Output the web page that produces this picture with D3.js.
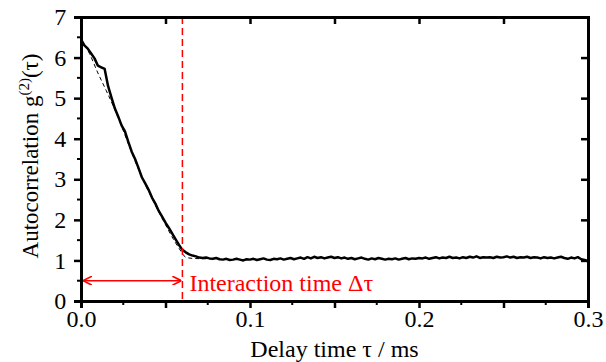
<!DOCTYPE html>
<html>
<head>
<meta charset="utf-8">
<script src="https://cdn.jsdelivr.net/npm/d3@7"></script>
<style>
  body { margin: 0; background: #fff; }
  text { font-family: "Liberation Serif", "Times New Roman", serif; }
</style>
</head>
<body>
<svg id="svg" width="606" height="362"></svg>
<script>
// measured g2 trace, one value every 2 us (0 .. 0.3 ms)
const tauStep = 0.002;
const g2 = [
  6.45, 6.30, 6.22, 6.10, 5.98, 5.80, 5.76, 5.72, 5.30, 5.02,
  4.75, 4.55, 4.33, 4.18, 3.92, 3.68, 3.50, 3.28, 3.05, 2.90,
  2.74, 2.55, 2.40, 2.22, 2.08, 1.93, 1.80, 1.66, 1.52, 1.38,
  1.26, 1.20, 1.15, 1.12, 1.10, 1.07, 1.06, 1.07, 1.05, 1.04,
  1.06,
  1.03, 1.02, 1.04, 1.01, 1.02, 1.04, 1.02, 1.00, 1.03, 1.02,
  1.04, 1.01, 1.03, 1.05, 1.02, 1.01, 1.04, 1.03, 1.05, 1.02,
  1.04, 1.06, 1.03, 1.05, 1.07, 1.04, 1.08, 1.05, 1.09, 1.06,
  1.08, 1.05, 1.07, 1.09, 1.06, 1.08, 1.05, 1.07, 1.04, 1.06,
  1.03, 1.05, 1.07, 1.04, 1.02, 1.05, 1.03, 1.06, 1.04, 1.02,
  1.04, 1.03, 1.05, 1.02, 1.04, 1.06, 1.03, 1.05, 1.04, 1.06,
  1.05, 1.07, 1.04, 1.06, 1.08, 1.05, 1.07, 1.06, 1.09, 1.06,
  1.07, 1.05, 1.08, 1.06, 1.09, 1.07, 1.10, 1.06, 1.08, 1.07,
  1.08, 1.06, 1.09, 1.07, 1.08, 1.10, 1.07, 1.09, 1.06, 1.08,
  1.07, 1.09, 1.06, 1.08, 1.07, 1.05, 1.08, 1.06, 1.07, 1.05,
  1.07, 1.09, 1.06, 1.04, 1.07, 1.05, 1.08, 1.03, 1.01, 0.98
];

// fitted curve (dashed)
const fitTau = [0, 0.005, 0.01, 0.015, 0.02, 0.025, 0.03, 0.035, 0.04, 0.045, 0.05, 0.055, 0.058, 0.062, 0.066, 0.075];
const fitG2  = [6.45, 6.10, 5.62, 5.18, 4.72, 4.20, 3.66, 3.15, 2.70, 2.28, 1.88, 1.50, 1.30, 1.08, 1.05, 1.04];

const xTickLabels = [0, 0.1, 0.2, 0.3];
const yTickLabels = [0, 1, 2, 3, 4, 5, 6, 7];
const interactionTime = 0.06;
const arrowLevel = 0.5;

const svg = d3.select("#svg");
const margin = { left: 81, right: 18, top: 17, bottom: 61 };
const width = 606, height = 362;

const x = d3.scaleLinear().domain([0, 0.3]).range([margin.left, width - margin.right]);
const y = d3.scaleLinear().domain([0, 7]).range([height - margin.bottom, margin.top]);

const red = "#ff0000";

// arrow markers
const defs = svg.append("defs");
defs.append("marker")
  .attr("id", "arrEnd")
  .attr("viewBox", "0 0 10 10")
  .attr("refX", 10).attr("refY", 5)
  .attr("markerWidth", 9).attr("markerHeight", 9)
  .attr("markerUnits", "userSpaceOnUse")
  .attr("orient", "auto-start-reverse")
  .append("path")
  .attr("d", "M0,0 L10,5 L0,10")
  .attr("fill", "none")
  .attr("stroke", red)
  .attr("stroke-width", 1.8);

// data
const data = g2.map((v, i) => ({ t: i * tauStep, g: v }));
const fit = fitTau.map((t, i) => ({ t: t, g: fitG2[i] }));

svg.append("path")
  .datum(fit)
  .attr("d", d3.line().x(d => x(d.t)).y(d => y(d.g)).curve(d3.curveMonotoneX))
  .attr("fill", "none")
  .attr("stroke", "#000")
  .attr("stroke-width", 1)
  .attr("stroke-dasharray", "4,3");

svg.append("path")
  .datum(data)
  .attr("d", d3.line().x(d => x(d.t)).y(d => y(d.g)))
  .attr("fill", "none")
  .attr("stroke", "#000")
  .attr("stroke-width", 2.5)
  .attr("stroke-linejoin", "round");

// interaction time marker
svg.append("line")
  .attr("x1", x(interactionTime)).attr("x2", x(interactionTime))
  .attr("y1", y(7)).attr("y2", y(0))
  .attr("stroke", red)
  .attr("stroke-width", 1.5)
  .attr("stroke-dasharray", "7,4");

svg.append("line")
  .attr("x1", x(0) + 2).attr("x2", x(interactionTime) - 1)
  .attr("y1", y(arrowLevel)).attr("y2", y(arrowLevel))
  .attr("stroke", red)
  .attr("stroke-width", 1.5)
  .attr("marker-start", "url(#arrEnd)")
  .attr("marker-end", "url(#arrEnd)");

svg.append("text")
  .attr("x", x(interactionTime) + 7)
  .attr("y", y(arrowLevel) + 10)
  .attr("fill", red)
  .attr("font-size", 24)
  .text("Interaction time \u0394\u03c4");

// axes
const fmt = d3.format(".1f");
const xMajor = d3.range(0, 0.3001, 0.05);
const xMinor = d3.range(0.025, 0.3, 0.05);

const bottomAx = svg.append("g").attr("transform", `translate(0,${y(0)})`);
bottomAx.call(d3.axisBottom(x).tickValues(xMajor).tickSize(7)
  .tickFormat(d => xTickLabels.some(v => Math.abs(v - d) < 1e-9) ? fmt(d) : ""));
bottomAx.selectAll(".minor").data(xMinor).enter().append("line")
  .attr("x1", d => x(d)).attr("x2", d => x(d)).attr("y1", 0).attr("y2", 4)
  .attr("stroke", "#000").attr("stroke-width", 2);

const topAx = svg.append("g").attr("transform", `translate(0,${y(7)})`);
topAx.call(d3.axisTop(x).tickValues(xMajor).tickSize(-7).tickFormat(""));

const leftAx = svg.append("g").attr("transform", `translate(${x(0)},0)`);
leftAx.call(d3.axisLeft(y).tickValues(yTickLabels).tickSize(7).tickFormat(d3.format("d")));
leftAx.selectAll(".minor").data(d3.range(0.5, 7, 1)).enter().append("line")
  .attr("x1", 0).attr("x2", -4).attr("y1", d => y(d)).attr("y2", d => y(d))
  .attr("stroke", "#000").attr("stroke-width", 2);

const rightAx = svg.append("g").attr("transform", `translate(${x(0.3)},0)`);
rightAx.call(d3.axisRight(y).tickValues(yTickLabels).tickSize(-7).tickFormat(""));

svg.selectAll(".domain").attr("stroke-width", 3).attr("stroke", "#000");
svg.selectAll(".tick line").attr("stroke-width", 2.5);
svg.selectAll(".tick text").attr("font-size", 24).attr("fill", "#000")
  .style("font-family", "'Liberation Serif', serif");
bottomAx.selectAll(".tick text").attr("dy", "0.68em");
leftAx.selectAll(".tick text").attr("dx", "-0.2em");

// titles
svg.append("text")
  .attr("x", (x(0) + x(0.3)) / 2)
  .attr("y", 357)
  .attr("text-anchor", "middle")
  .attr("font-size", 24)
  .text("Delay time \u03c4 / ms");

const yt = svg.append("text")
  .attr("transform", `translate(38,${(y(0) + y(7)) / 2 - 3}) rotate(-90)`)
  .attr("text-anchor", "middle")
  .attr("font-size", 23);
yt.append("tspan").text("Autocorrelation g");
yt.append("tspan").attr("font-size", 15).attr("dy", -9).text("(2)");
yt.append("tspan").attr("dy", 9).text("(\u03c4)");
</script>
</body>
</html>
